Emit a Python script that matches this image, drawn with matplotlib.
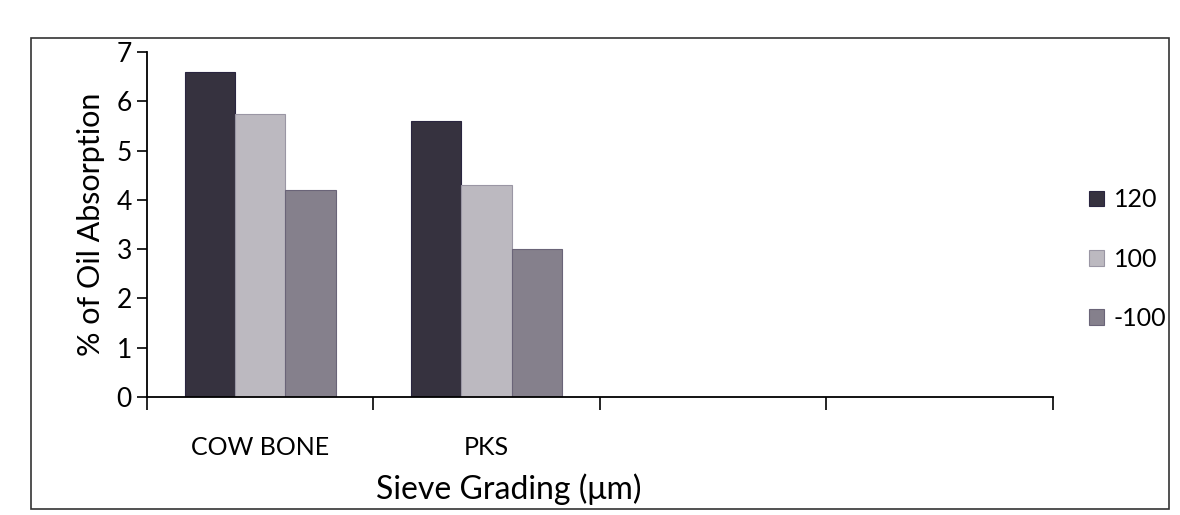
import matplotlib
matplotlib.use("Agg")
import matplotlib.pyplot as plt
import numpy as np
from matplotlib.patches import Rectangle

# Data
categories = ["COW BONE", "PKS", "", ""]
series_names = ["120", "100", "-100"]
s120 = [6.6, 5.6, np.nan, np.nan]
s100 = [5.75, 4.3, np.nan, np.nan]
sm100 = [4.2, 3.0, np.nan, np.nan]
y_ticks = [0, 1, 2, 3, 4, 5, 6, 7]

colors = ["#36323f", "#bcb9c0", "#85808c"]
edge = ["#2a2540", "#9a96a4", "#6a6478"]

plt.rcParams['font.family'] = ['Lato', 'DejaVu Sans']

fig = plt.figure(figsize=(11.8, 5.15), dpi=100)
fig.patch.set_facecolor("white")
ax = fig.add_axes([0.1246, 0.229, 0.892 - 0.1246, 0.899 - 0.229])

# outer chart border
fig.add_artist(Rectangle((0.026, 0.012), 0.965, 0.915, transform=fig.transFigure,
                         fill=False, edgecolor="#333333", linewidth=1.2))

x = np.arange(len(categories))
group = 0.667
w = group / 3
for i, (vals, name) in enumerate(zip([s120, s100, sm100], series_names)):
    ax.bar(x - group / 2 + w * (i + 0.5), vals, width=w, color=colors[i],
           edgecolor=edge[i], linewidth=0.8, label=name)

ax.set_xlim(-0.5, len(categories) - 0.5)
ax.set_ylim(0, 7)
ax.set_yticks(y_ticks)
ax.set_yticklabels([str(t) for t in y_ticks], fontsize=19)
ax.set_xticks(x)
ax.set_xticklabels(categories, fontsize=18)
ax.tick_params(axis="x", length=0, pad=28)
ax.set_xticks(np.arange(len(categories) + 1) - 0.5, minor=True)
ax.tick_params(axis="x", which="minor", length=9, width=1.2, direction="out")
ax.tick_params(axis="y", length=7, width=1.2, direction="out", pad=4)

for s in ["top", "right"]:
    ax.spines[s].set_visible(False)
ax.spines["left"].set_linewidth(1.3)
ax.spines["bottom"].set_linewidth(1.3)

ax.set_ylabel("% of Oil Absorption", fontsize=22, labelpad=8)
ax.set_xlabel("Sieve Grading (\u03bcm)", fontsize=23, labelpad=-4)
ax.xaxis.set_label_coords(0.40, -0.22)

leg = ax.legend(loc="center left", bbox_to_anchor=(1.015, 0.40), frameon=False,
                fontsize=18, handlelength=0.6, handleheight=0.6, labelspacing=1.45,
                handletextpad=0.4)

fig.savefig("out.png", dpi=100, facecolor="white")
